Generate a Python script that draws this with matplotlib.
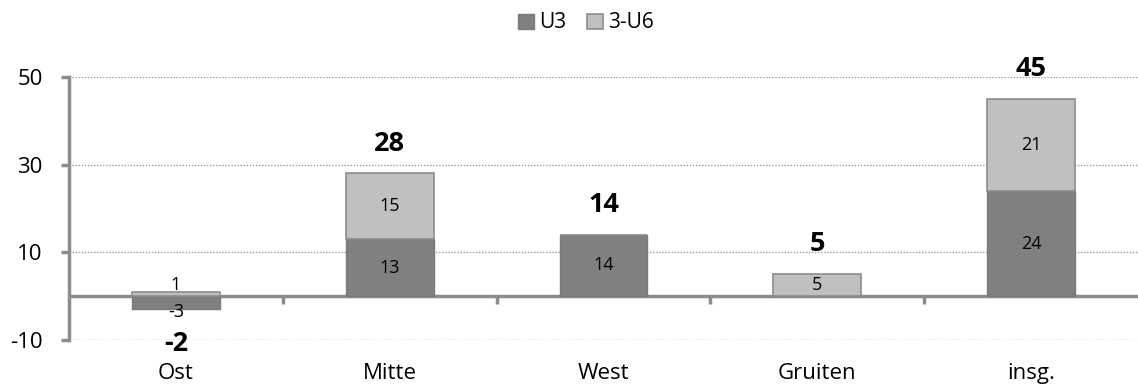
import matplotlib.pyplot as plt
import numpy as np

# Werte aus der Grafik
categories = ["Ost", "Mitte", "West", "Gruiten", "insg."]
u3 = [-3, 13, 14, 0, 24]
u3_6 = [1, 15, 0, 5, 21]
yticks = [-10, 10, 30, 50]

plt.rcParams['font.family'] = ['Open Sans', 'DejaVu Sans']

dark = "#808080"
light = "#c0c0c0"
axis_col = "#8c8c8c"

fig = plt.figure(figsize=(11.38, 3.85), dpi=100)
ax = fig.add_axes([69 / 1138, 45 / 385, 1069 / 1138, 263 / 385])

x = np.arange(len(categories))
width = 0.41

# positive values stack upward from 0, negative values downward
u3_arr = np.array(u3, dtype=float)
u36_arr = np.array(u3_6, dtype=float)
bottom_36 = np.where(u3_arr > 0, u3_arr, 0)

ax.bar(x, u3_arr, width, color=dark, edgecolor="#7a7a7a", linewidth=1, label="U3", zorder=3)
ax.bar(x, u36_arr, width, bottom=bottom_36, color=light, edgecolor="#8c8c8c",
       linewidth=1.2, label="3-U6", zorder=3)


def seg_label(xpos, base, val):
    y = base + val / 2
    if abs(val) < 4:  # small segments: label pushed outside a bit
        y += 2.1 if val > 0 else -2.1
    ax.text(xpos, y, str(val), ha="center", va="center", fontsize=13, zorder=4)


for i in range(len(categories)):
    if u3[i] != 0:
        seg_label(x[i], 0, u3[i])
    if u3_6[i] != 0:
        seg_label(x[i], bottom_36[i], u3_6[i])

# totals
totals = u3_arr + u36_arr
for i, t in enumerate(totals):
    if t >= 0:
        top = bottom_36[i] + u36_arr[i]
        ax.text(x[i], top + 6.8, str(int(t)), ha="center", va="center", fontsize=19.5,
                fontweight="bold", zorder=4)
    else:
        low = min(u3_arr[i], 0)
        ax.text(x[i], low - 7.8, str(int(t)), ha="center", va="center", fontsize=19.5,
                fontweight="bold", zorder=4)

ax.set_xlim(-0.5, len(categories) - 0.5)
ax.set_ylim(-10, 50)
ax.set_yticks(yticks)
ax.set_yticklabels([str(v) for v in yticks], fontsize=16)
ax.yaxis.grid(True, linestyle=(0, (1, 1.2)), color="#9a9a9a", linewidth=1, zorder=0)

# zero line acting as the category axis
ax.axhline(0, color=axis_col, linewidth=2.5, zorder=2)
ax.set_xticks([])
for b in np.arange(0.5, len(categories) - 0.5, 1.0):
    ax.plot([b, b], [0, -1.7], color=axis_col, linewidth=2.5, zorder=2, solid_capstyle="butt")
for i, c in enumerate(categories):
    ax.text(x[i], -17.6, c, ha="center", va="center", fontsize=16)

for s in ["top", "right", "bottom"]:
    ax.spines[s].set_visible(False)
ax.spines["left"].set_color(axis_col)
ax.spines["left"].set_linewidth(2.5)
ax.tick_params(axis="y", length=6, width=2.5, color=axis_col, pad=13)

leg = fig.legend(loc="center", bbox_to_anchor=(0.515, 1 - 23 / 385), ncol=2, frameon=False,
                 fontsize=15, handlelength=0.75, handleheight=0.75, handletextpad=0.25,
                 columnspacing=1.0)

fig.savefig("out.png", dpi=100)
